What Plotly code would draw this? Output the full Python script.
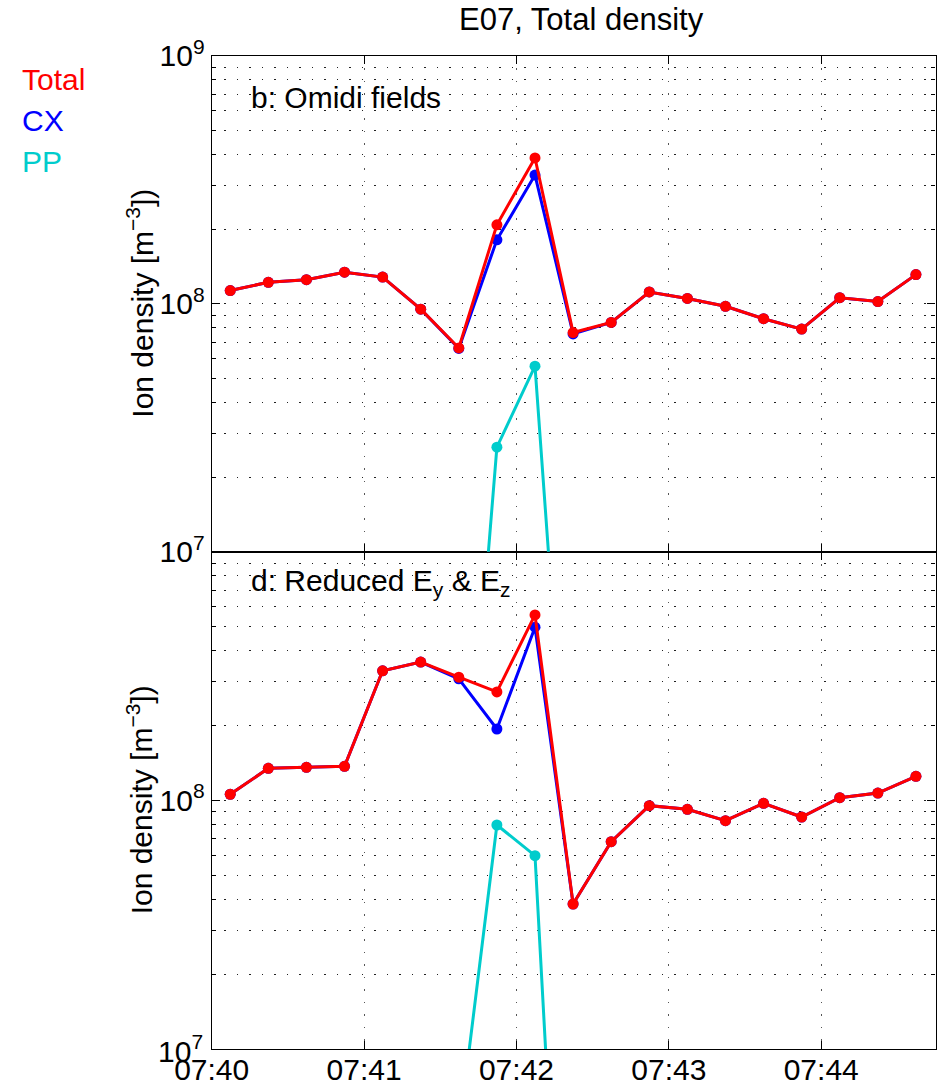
import plotly.graph_objects as go

# Sample times (15 s cadence)
times = [
    "2000-01-01 07:40:07.3", "2000-01-01 07:40:22.3", "2000-01-01 07:40:37.3",
    "2000-01-01 07:40:52.3", "2000-01-01 07:41:07.3", "2000-01-01 07:41:22.3",
    "2000-01-01 07:41:37.3", "2000-01-01 07:41:52.3", "2000-01-01 07:42:07.3",
    "2000-01-01 07:42:22.3", "2000-01-01 07:42:37.3", "2000-01-01 07:42:52.3",
    "2000-01-01 07:43:07.3", "2000-01-01 07:43:22.3", "2000-01-01 07:43:37.3",
    "2000-01-01 07:43:52.3", "2000-01-01 07:44:07.3", "2000-01-01 07:44:22.3",
    "2000-01-01 07:44:37.3",
]

# Panel b: Omidi fields  (ion density, m^-3)
total_b = [1.13e8, 1.22e8, 1.25e8, 1.34e8, 1.28e8, 9.5e7, 6.63e7, 2.08e8, 3.87e8,
           7.65e7, 8.4e7, 1.115e8, 1.05e8, 9.76e7, 8.7e7, 7.9e7, 1.057e8, 1.02e8, 1.31e8]
cx_b = [1.13e8, 1.22e8, 1.25e8, 1.34e8, 1.28e8, 9.5e7, 6.6e7, 1.81e8, 3.30e8,
        7.55e7, 8.4e7, 1.115e8, 1.05e8, 9.76e7, 8.7e7, 7.9e7, 1.057e8, 1.02e8, 1.31e8]
pp_b = [None, None, None, None, None, None, 3.4e5, 2.64e7, 5.6e7,
        4.2e5, None, None, None, None, None, None, None, None, None]

# Panel d: Reduced Ey & Ez
total_d = [1.058e8, 1.345e8, 1.358e8, 1.37e8, 3.32e8, 3.60e8, 3.13e8, 2.73e8, 5.57e8,
           3.83e7, 6.82e7, 9.52e7, 9.2e7, 8.28e7, 9.73e7, 8.57e7, 1.025e8, 1.07e8, 1.249e8]
cx_d = [1.058e8, 1.345e8, 1.358e8, 1.37e8, 3.32e8, 3.60e8, 3.08e8, 1.936e8, 4.97e8,
        3.83e7, 6.82e7, 9.52e7, 9.2e7, 8.28e7, 9.73e7, 8.57e7, 1.025e8, 1.07e8, 1.249e8]
pp_d = [None, None, None, None, None, None, 4.55e6, 7.96e7, 5.99e7,
        9.5e4, None, None, None, None, None, None, None, None, None]

RED = "#FF0000"
BLUE = "#0000FF"
CYAN = "#00CCCC"
FONT = "Liberation Sans, Arial, Helvetica, sans-serif"

W, H = 942, 1091
X0, X1 = 211.7, 935.5          # plot left/right (px)
Y_TOP, Y_MID, Y_BOT = 55.7, 551.7, 1049.0


def px(x):
    return x / W


def py(y):
    return 1 - y / H


fig = go.Figure()

series = [
    ("PP", CYAN), ("CX", BLUE), ("Total", RED),
]
panels = [
    ("x2", "y2", {"PP": pp_b, "CX": cx_b, "Total": total_b}),
    ("x", "y", {"PP": pp_d, "CX": cx_d, "Total": total_d}),
]
for xa, ya, data in panels:
    for name, col in series:
        fig.add_trace(go.Scatter(
            x=times, y=data[name], mode="lines+markers", name=name,
            line=dict(color=col, width=3),
            marker=dict(color=col, size=11, line=dict(width=0)),
            connectgaps=False, showlegend=False, xaxis=xa, yaxis=ya,
        ))

major_y = [1e7, 1e8, 1e9]
minor_y = [m * 10 ** e for e in (7, 8) for m in range(2, 10)]
grid_dash = "1.5px,11px"

common_y = dict(
    type="log", range=[7, 9], tickvals=major_y, automargin=False,
    showline=True, linecolor="black", linewidth=1.2, mirror="ticks",
    ticks="inside", ticklen=8, tickwidth=1.2, tickcolor="black",
    showgrid=True, gridcolor="#222222", gridwidth=1, griddash=grid_dash,
    zeroline=False,
    tickfont=dict(family=FONT, size=30, color="black"),
    minor=dict(tickvals=minor_y, ticks="inside", ticklen=4, tickcolor="black",
               showgrid=True, gridcolor="#222222", gridwidth=1, griddash=grid_dash),
)

common_x = dict(
    type="date", range=["2000-01-01 07:40:00", "2000-01-01 07:44:45"],
    tick0="2000-01-01 07:40:00", dtick=60000, tickformat="%H:%M", automargin=False,
    showline=True, linecolor="black", linewidth=1.2, mirror="ticks",
    ticks="inside", ticklen=8, tickwidth=1.2, tickcolor="black",
    showgrid=True, gridcolor="#555555", gridwidth=1, griddash=grid_dash,
    zeroline=False, domain=[px(X0), px(X1)], ticklabelstandoff=-6,
    tickfont=dict(family=FONT, size=30, color="black"),
)

fig.update_layout(
    width=W, height=H,
    margin=dict(l=0, r=0, t=0, b=0),
    paper_bgcolor="white", plot_bgcolor="white",
    showlegend=False,
    xaxis=dict(common_x, anchor="y"),
    xaxis2=dict(common_x, anchor="y2", matches="x", showticklabels=False),
    yaxis=dict(common_y, anchor="x", domain=[py(Y_BOT), py(Y_MID)],
               ticktext=["", "10<sup>8</sup>", ""]),
    yaxis2=dict(common_y, anchor="x2", domain=[py(Y_MID), py(Y_TOP)],
                ticktext=["10<sup>7</sup>", "10<sup>8</sup>", "10<sup>9</sup>"]),
)

# Bottom decade label of the lower panel sits just under the axis
fig.add_annotation(x=px(X0 - 7), y=py(Y_BOT), xref="paper", yref="paper",
                   text="10<sup>7</sup>", showarrow=False, xanchor="right",
                   yanchor="middle", font=dict(family=FONT, size=30, color="black"))


def label(text, x, y, color="black", size=30, xanchor="left", angle=0, yanchor="middle"):
    fig.add_annotation(x=px(x), y=py(y), xref="paper", yref="paper", text=text,
                       showarrow=False, xanchor=xanchor, yanchor=yanchor,
                       textangle=angle, font=dict(family=FONT, size=size, color=color))


label("E07, Total density", (X0 + X1) / 2 + 8, 20, size=31, xanchor="center")
label("Total", 20, 80, color=RED)
label("CX", 20, 120, color=BLUE)
label("PP", 20, 162, color=CYAN)
label("b: Omidi fields", 249, 97)
label("d: Reduced E<sub>y</sub> &amp; E<sub>z</sub>", 249, 582)
label("Ion density [m<sup>−3</sup>])", 140, (Y_TOP + Y_MID) / 2, angle=-90, xanchor="center")
label("Ion density [m<sup>−3</sup>])", 140, (Y_MID + Y_BOT) / 2, angle=-90, xanchor="center")

fig.write_html("out.html")
